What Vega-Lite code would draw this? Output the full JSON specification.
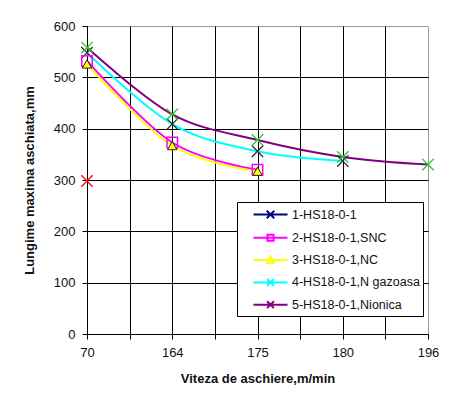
{
  "$schema": "https://vega.github.io/schema/vega-lite/v6.json",
  "width": 341,
  "height": 308,
  "autosize": {"type": "none"},
  "padding": {"left": 87, "top": 26, "right": 25, "bottom": 63},
  "background": "white",
  "config": {
    "font": "Liberation Sans",
    "view": {"stroke": "#9a9a9a", "strokeWidth": 1},
    "axis": {
      "labelFont": "Liberation Sans",
      "labelFontSize": 13,
      "labelColor": "#111111",
      "titleFont": "Liberation Sans",
      "titleFontSize": 13,
      "titleFontWeight": "bold",
      "titleColor": "#111111",
      "domainColor": "#000000",
      "domainWidth": 1,
      "tickColor": "#000000",
      "tickSize": 5,
      "gridOpacity": 1,
      "gridWidth": 1
    }
  },
  "data": {
    "values": [
      {"v": "70", "s": "1-HS18-0-1", "L": 298},
      {"v": "70", "s": "2-HS18-0-1,SNC", "L": 532},
      {"v": "164", "s": "2-HS18-0-1,SNC", "L": 373},
      {"v": "175", "s": "2-HS18-0-1,SNC", "L": 320},
      {"v": "70", "s": "3-HS18-0-1,NC", "L": 526},
      {"v": "164", "s": "3-HS18-0-1,NC", "L": 367},
      {"v": "175", "s": "3-HS18-0-1,NC", "L": 317},
      {"v": "70", "s": "4-HS18-0-1,N gazoasa", "L": 548},
      {"v": "164", "s": "4-HS18-0-1,N gazoasa", "L": 409},
      {"v": "175", "s": "4-HS18-0-1,N gazoasa", "L": 356},
      {"v": "180", "s": "4-HS18-0-1,N gazoasa", "L": 337},
      {"v": "70", "s": "5-HS18-0-1,Nionica", "L": 558},
      {"v": "164", "s": "5-HS18-0-1,Nionica", "L": 428},
      {"v": "175", "s": "5-HS18-0-1,Nionica", "L": 378},
      {"v": "180", "s": "5-HS18-0-1,Nionica", "L": 345},
      {"v": "196", "s": "5-HS18-0-1,Nionica", "L": 330}
    ]
  },
  "encoding": {
    "x": {
      "field": "v",
      "type": "nominal",
      "sort": null,
      "scale": {
        "type": "point",
        "padding": 0,
        "domain": ["70", "70-164", "164", "164-175", "175", "175-180", "180", "180-196", "196"]
      },
      "axis": {
        "title": "Viteza de aschiere,m/min",
        "labelAngle": 0,
        "labelPadding": 7,
        "titlePadding": 13,
        "labelExpr": "indexof(datum.label, '-') >= 0 ? '' : datum.label",
        "grid": true,
        "gridColor": {"condition": {"test": "datum.value === '196'", "value": "transparent"}, "value": "#000000"}
      }
    },
    "y": {
      "field": "L",
      "type": "quantitative",
      "scale": {"domain": [0, 600], "nice": false},
      "axis": {
        "title": "Lungime maxima aschiata,mm",
        "values": [0, 100, 200, 300, 400, 500, 600],
        "labelPadding": 7,
        "titlePadding": 17,
        "grid": true,
        "gridColor": {"condition": {"test": "datum.value === 600", "value": "transparent"}, "value": "#000000"}
      }
    }
  },
  "layer": [
    {
      "mark": {"type": "line", "interpolate": "cardinal", "strokeWidth": 2},
      "encoding": {
        "color": {
          "field": "s",
          "type": "nominal",
          "scale": {
            "domain": ["1-HS18-0-1", "2-HS18-0-1,SNC", "3-HS18-0-1,NC", "4-HS18-0-1,N gazoasa", "5-HS18-0-1,Nionica"],
            "range": ["#000080", "#ff00ff", "#ffff00", "#00ffff", "#800080"]
          },
          "legend": {
            "orient": "none",
            "legendX": 150,
            "legendY": 176,
            "title": null,
            "fillColor": "white",
            "strokeColor": "#000000",
            "padding": 3,
            "labelFont": "Liberation Sans",
            "labelFontSize": 12.5,
            "labelColor": "#111111",
            "labelExpr": "datum.label + '\u00a0\u00a0\u00a0\u00a0\u00a0\u00a0\u00a0'",
            "symbolSize": 289,
            "symbolStrokeWidth": 2,
            "symbolOffset": 21,
            "labelOffset": 12,
            "rowPadding": 5.3,
            "encode": {
              "symbols": {
                "update": {
                  "fill": {"value": "transparent"},
                  "shape": {
                    "signal": "datum.value === '1-HS18-0-1' ? 'M-2,0H2M-0.44,-0.44L0.44,0.44M-0.44,0.44L0.44,-0.44' : datum.value === '2-HS18-0-1,SNC' ? 'M-2,0H2M-0.36,-0.36H0.36V0.36H-0.36Z' : datum.value === '3-HS18-0-1,NC' ? 'M-2,0H2M0,-0.44L0.4,0.32H-0.4Z' : 'M-2,0H2M-0.4,-0.4L0.4,0.4M-0.4,0.4L0.4,-0.4'"
                  }
                }
              }
            }
          }
        }
      }
    },
    {
      "transform": [{"filter": "indexof(['1-HS18-0-1', '4-HS18-0-1,N gazoasa', '5-HS18-0-1,Nionica'], datum.s) >= 0"}],
      "mark": {"type": "point", "shape": "M-1,-1L1,1M-1,1L1,-1", "filled": false, "size": 130, "strokeWidth": 1.3, "opacity": 1},
      "encoding": {
        "stroke": {
          "field": "s",
          "type": "nominal",
          "scale": {
            "domain": ["1-HS18-0-1", "4-HS18-0-1,N gazoasa", "5-HS18-0-1,Nionica"],
            "range": ["#ff0000", "#333333", "#22cc22"]
          },
          "legend": null
        }
      }
    },
    {
      "transform": [{"filter": "datum.s === '2-HS18-0-1,SNC'"}],
      "mark": {"type": "point", "shape": "square", "filled": false, "size": 110, "stroke": "#ff00ff", "strokeWidth": 1.5, "opacity": 1}
    },
    {
      "transform": [{"filter": "datum.s === '3-HS18-0-1,NC'"}],
      "mark": {"type": "point", "shape": "triangle-up", "filled": true, "size": 90, "fill": "#ffff00", "stroke": "#222222", "strokeWidth": 1, "opacity": 1}
    }
  ]
}
